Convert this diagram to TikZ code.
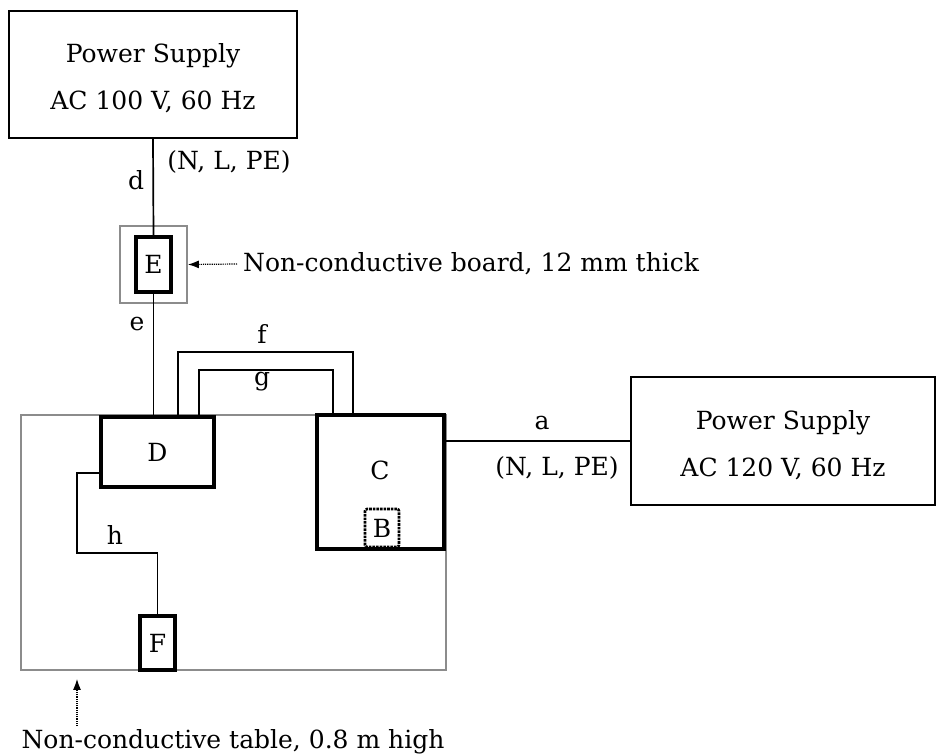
\documentclass[tikz,border=0pt]{standalone}
\usepackage{fontspec}
\setmainfont{DejaVu Serif}
\usepackage{tikz}
\usetikzlibrary{arrows.meta, positioning, calc}

\begin{document}
\begin{tikzpicture}[
    x=1pt, y=-1pt,
    every node/.style={font=\fontsize{25}{47}\selectfont},
    supply/.style={draw, line width=1.8pt, align=center, inner sep=0pt,
                   text height=74pt},
    unit/.style={draw, line width=3.6pt, fill=white, inner sep=0pt},
    plate/.style={draw=black!45, line width=1.8pt, inner sep=0pt},
    wire/.style={line width=1.7pt},
    note/.style={densely dotted, line width=1.2pt,
                 -{Latex[length=11pt, width=8pt]}}
  ]
    \useasboundingbox (0,0) rectangle (937,755);

    % table and board
    \node[plate, minimum width=425pt, minimum height=255pt] (table) at (233.5,542.5) {};
    \node[plate, minimum width=67pt, minimum height=77pt] (board) at (153.5,264.5) {};

    % power supplies
    \node[supply, minimum width=288pt, minimum height=127pt] (ps1) at (153,74.5)
      {Power Supply\\AC 100 V, 60 Hz};
    \node[supply, minimum width=304pt, minimum height=128pt] (ps2) at (783,441)
      {Power Supply\\AC 120 V, 60 Hz};

    % equipment
    \node[unit, minimum width=35pt, minimum height=55pt] (E) at (153.5,264.5) {E};
    \node[unit, minimum width=113pt, minimum height=70pt] (D) at (157.5,452) {D};
    \node[unit, minimum width=127pt, minimum height=134pt] (C) at (380.5,482) {};
    \node (Ctxt) at (380,470) {C};
    \node[draw, densely dotted, line width=2.6pt, rounded corners=2pt, inner sep=0pt,
          minimum width=34pt, minimum height=38pt] (B) at (382,528) {B};
    \node[unit, minimum width=35pt, minimum height=54pt] (F) at (157.5,643) {F};

    % cables
    \coordinate (f1) at (178,352);
    \coordinate (f2) at (353,352);
    \coordinate (g1) at (199,370);
    \coordinate (g2) at (333,370);
    \coordinate (h1) at (77,473);
    \coordinate (h2) at (77,553);
    \coordinate (h3) at (157.5,553);
    \draw[wire] (ps1.south) -- (E.north);
    \draw[wire] (E.south) -- (E.south |- D.north);
    \draw[wire] (D.north -| f1) -- (f1) -- (f2) -- (C.north -| f2);
    \draw[wire] (D.north -| g1) -- (g1) -- (g2) -- (C.north -| g2);
    \draw[wire] (ps2.west -| C.east) -- (ps2.west);
    \draw[wire] (D.west |- h1) -- (h1) -- (h2) -- (h3) -- (F.north);

    % cable labels
    \node (dlbl) at (136,180) {d};
    \node (nlpe1) at (229,162) {(N, L, PE)};
    \node (elbl) at (137,324) {e};
    \node (flbl) at (262,334) {f};
    \node (glbl) at (262,382) {g};
    \node (albl) at (542,423) {a};
    \node (nlpe2) at (557,468) {(N, L, PE)};
    \node (hlbl) at (115,535) {h};

    % notes
    \node[anchor=west, inner sep=6pt] (boardtxt) at (237,264)
      {Non-conductive board, 12 mm thick};
    \draw[note] (boardtxt.west) -- (board.east);
    \coordinate (tarr) at (77,0);
    \node (tabletxt) at (233,742) {Non-conductive table, 0.8 m high};
    \draw[note, shorten >=8pt] (tabletxt.north -| tarr) -- (table.south -| tarr);
\end{tikzpicture}
\end{document}
